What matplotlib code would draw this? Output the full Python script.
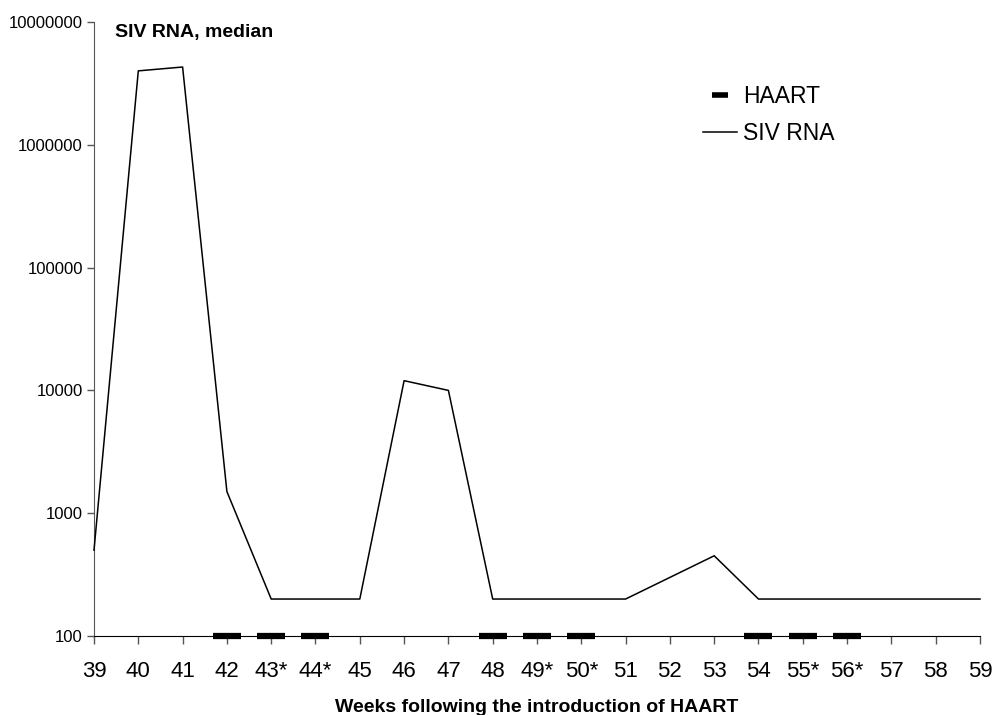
import matplotlib
matplotlib.use("Agg")
from matplotlib import pyplot as plt
from matplotlib.lines import Line2D
from matplotlib.ticker import FixedLocator, NullLocator, FuncFormatter

plt.rcParams['font.family'] = ['Liberation Sans', 'DejaVu Sans']

weeks = [39, 40, 41, 42, 43, 44, 45, 46, 47, 48, 49, 50, 51, 52, 53, 54, 55, 56, 57, 58, 59]
week_labels = ["39", "40", "41", "42", "43*", "44*", "45", "46", "47", "48", "49*", "50*",
               "51", "52", "53", "54", "55*", "56*", "57", "58", "59"]
siv_rna = [500, 4000000, 4300000, 1500, 200, 200, 200, 12000, 10000, 200, 200, 200,
           200, 300, 450, 200, 200, 200, 200, 200, 200]
haart_weeks = [42, 43, 44, 48, 49, 50, 54, 55, 56]
haart_level = [100] * len(haart_weeks)

fig = plt.figure(figsize=(9.95, 7.15), dpi=100)
ax = fig.add_axes([94 / 995, 1 - 636 / 715, (980 - 94) / 995, (636 - 22) / 715])

ax.plot(weeks, siv_rna, color="black", lw=1.1, clip_on=False, zorder=3)
ax.plot(haart_weeks, haart_level, ls="none", marker="_", markersize=20, mew=4.5,
        color="black", clip_on=False, zorder=4)

ax.set_yscale("log")
ax.set_ylim(100, 1e7)
ax.set_xlim(39, 59)
ax.yaxis.set_major_locator(FixedLocator([1e2, 1e3, 1e4, 1e5, 1e6, 1e7]))
ax.yaxis.set_minor_locator(NullLocator())
ax.yaxis.set_major_formatter(FuncFormatter(lambda v, p: f"{int(round(v))}"))
ax.set_xticks(weeks)
ax.set_xticklabels(week_labels, fontsize=16)
ax.tick_params(axis="y", labelsize=12, length=5, width=1, color="#555555", pad=3)
ax.tick_params(axis="x", length=6, width=1, color="#555555", pad=12)

for s in ["top", "right"]:
    ax.spines[s].set_visible(False)
ax.spines["left"].set_color("#555555")
ax.spines["bottom"].set_color("black")

ax.set_xlabel("Weeks following the introduction of HAART", fontsize=14, fontweight="bold",
              labelpad=12)
fig.text(115 / 995, 1 - 32 / 715, "SIV RNA, median", fontsize=14, fontweight="bold",
         va="center", ha="left")

handles = [Line2D([0], [0], ls="none", marker="_", markersize=11.5, mew=4, color="black"),
           Line2D([0], [0], color="black", lw=1.1)]
leg = ax.legend(handles, ["HAART", "SIV RNA"], loc="upper left",
                bbox_to_anchor=(703 / 995, 1 - 85 / 715), bbox_transform=fig.transFigure,
                frameon=False, fontsize=16.5, handlelength=1.5, handletextpad=0.25,
                labelspacing=0.6, borderpad=0, borderaxespad=0)

fig.savefig("out.png", dpi=100)
